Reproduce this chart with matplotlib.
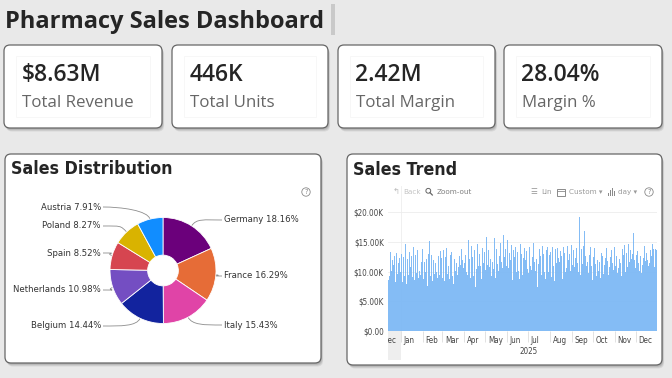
import matplotlib
matplotlib.use('Agg')
import matplotlib.pyplot as plt
from matplotlib.patches import FancyBboxPatch, Rectangle, Circle, PathPatch
from matplotlib.path import Path
from matplotlib import font_manager as fm
import matplotlib.transforms as mtransforms
import matplotlib.dates as mdates
from matplotlib.ticker import FuncFormatter
import numpy as np
import datetime as dt
import os

# ---------------- data ----------------
title = "Pharmacy Sales Dashboard"
kpi_values = ["$8.63M", "446K", "2.42M", "28.04%"]
kpi_labels = ["Total Revenue", "Total Units", "Total Margin", "Margin %"]

countries = ["Germany", "France", "Italy", "Belgium", "Netherlands", "Spain", "Poland", "Austria"]
shares = [18.16, 16.29, 15.43, 14.44, 10.98, 8.52, 8.27, 7.91]
pie_colors = ["#6B007B", "#E66C37", "#E044A7", "#12239E", "#744EC2", "#D64550", "#D9B300", "#118DFF"]

trend_start = dt.date(2024, 12, 14)
sales_dec24 = [8.6, 11.8, 9.2, 13.4, 10.1, 8.4, 12.0, 11.2, 9.0, 12.6, 8.3, 10.9, 13.1, 9.6, 11.4, 8.7, 12.3, 10.0]
sales_jan = [9.8, 13.0, 8.2, 11.5, 12.4, 9.3, 14.7, 10.6, 8.0, 12.1, 11.0, 9.5, 13.3, 7.8, 10.8, 12.7, 9.1, 11.9, 14.2, 8.6,
             10.4, 12.9, 9.7, 11.3, 13.6, 8.9, 10.2, 12.5, 9.4, 11.7, 10.9]
sales_feb = [13.8, 8.8, 11.6, 15.1, 9.9, 12.2, 10.5, 7.6, 13.0, 11.1, 15.1, 9.2, 12.8, 10.3, 8.5, 12.0, 14.1, 9.6, 11.4, 13.2,
             10.0, 8.9, 12.6, 11.8, 9.4, 13.5, 10.7, 12.3]
sales_mar = [9.0, 11.9, 13.7, 8.4, 12.4, 10.2, 14.0, 9.6, 16.3, 11.0, 8.7, 12.9, 10.5, 13.4, 9.3, 11.6, 7.9, 12.2, 14.1, 10.1,
             11.5, 9.4, 13.1, 10.8, 12.6, 8.8, 11.2, 13.9, 9.9, 12.0, 10.6]
sales_apr = [11.4, 8.6, 12.8, 10.0, 13.5, 9.5, 15.4, 11.2, 12.1, 8.9, 14.3, 10.7, 12.5, 9.2, 11.8, 13.7, 7.4, 12.3, 10.4, 14.6,
             11.0, 9.7, 13.0, 10.9, 12.7, 8.7, 14.0, 11.5, 9.8, 13.3]
sales_may = [10.3, 12.9, 15.9, 11.1, 9.6, 13.6, 10.8, 12.2, 14.8, 9.3, 11.7, 13.1, 10.5, 15.7, 12.0, 8.9, 13.8, 11.3, 14.4, 10.1,
             12.6, 9.8, 14.9, 11.6, 13.3, 10.7, 16.2, 12.4, 9.4, 13.9, 11.0]
sales_jun = [12.8, 15.4, 10.6, 13.2, 9.7, 12.0, 14.5, 11.4, 8.6, 13.7, 10.9, 12.5, 14.1, 9.9, 11.8, 13.4, 10.2, 12.9, 8.8, 14.6,
             11.2, 13.0, 9.5, 12.3, 10.7, 14.0, 11.9, 9.1, 13.5, 10.4]
sales_jul = [12.7, 9.8, 14.2, 11.0, 13.1, 10.3, 12.4, 8.9, 14.8, 11.6, 13.6, 10.1, 12.2, 7.5, 17.7, 11.3, 13.9, 10.8, 12.6, 9.4,
             14.3, 11.8, 13.0, 10.0, 12.5, 8.7, 13.7, 11.1, 14.1, 9.9, 12.8]
sales_aug = [10.6, 13.4, 9.1, 12.0, 14.2, 10.9, 12.9, 8.5, 13.8, 11.5, 10.2, 14.0, 12.3, 9.6, 11.7, 13.5, 10.4, 12.7, 8.8, 14.1,
             11.0, 13.2, 9.9, 12.4, 10.7, 14.4, 11.9, 9.3, 13.0, 10.1, 12.6]
sales_sep = [14.5, 11.2, 9.7, 13.6, 10.8, 12.3, 8.9, 14.0, 11.5, 13.1, 10.0, 19.2, 12.1, 9.4, 13.8, 11.3, 10.5, 14.3, 16.8, 8.4,
             12.7, 10.9, 13.4, 11.7, 9.8, 12.9, 10.3, 14.1, 11.0, 13.2]
sales_oct = [8.6, 12.4, 10.7, 14.0, 11.3, 9.2, 13.5, 12.0, 10.1, 14.1, 11.6, 8.9, 13.2, 10.5, 12.7, 9.6, 13.9, 11.1, 12.3, 10.0,
             14.0, 11.8, 9.4, 13.3, 10.8, 12.5, 9.9, 13.7, 11.4, 12.9, 10.3]
sales_nov = [14.2, 11.0, 15.4, 12.6, 9.7, 13.4, 10.6, 12.1, 15.3, 11.5, 9.3, 13.8, 10.2, 12.8, 14.5, 11.2, 9.9, 13.1, 10.8, 12.4,
             14.7, 11.7, 10.4, 13.6, 12.2, 9.5, 13.0, 16.6, 11.9, 14.3]
sales_dec25 = [10.7, 12.9, 9.1, 13.5, 11.4, 14.7, 10.2, 12.6, 9.8, 13.9, 11.1, 12.3, 10.5, 14.4, 11.8, 9.4, 13.2, 12.0, 10.9, 14.0,
               11.5, 13.6, 10.3, 12.7, 14.6, 11.2, 13.8, 10.8, 13.9, 12.4, 13.7]
month_labels = ["Dec", "Jan", "Feb", "Mar", "Apr", "May", "Jun", "Jul", "Aug", "Sep", "Oct", "Nov", "Dec"]
year_label = "2025"
y_ticks = [0, 5000, 10000, 15000, 20000]

daily_k = (sales_dec24 + sales_jan + sales_feb + sales_mar + sales_apr + sales_may + sales_jun +
           sales_jul + sales_aug + sales_sep + sales_oct + sales_nov + sales_dec25)
daily_sales = np.array(daily_k) * 1000.0
dates = [trend_start + dt.timedelta(days=i) for i in range(len(daily_sales))]

# ---------------- fonts ----------------
_paths = {os.path.basename(f.fname): f.fname for f in fm.fontManager.ttflist}

def pick(cands, fallback):
    for c in cands:
        if c in _paths:
            return fm.FontProperties(fname=_paths[c])
    return fallback

cond_bold = pick(["DejaVuSansCondensed-Bold.ttf", "LiberationSansNarrow-Bold.ttf"],
                 fm.FontProperties(family="Roboto", weight="bold"))
cond_reg = pick(["DejaVuSansCondensed.ttf", "LiberationSansNarrow-Regular.ttf"],
                fm.FontProperties(family="Roboto"))

def fp(base, size):
    p = base.copy()
    p.set_size(size)
    return p

# ---------------- figure ----------------
W, H = 672, 378
fig = plt.figure(figsize=(6.72, 3.78), dpi=100)
fig.patch.set_facecolor('#e9e9e9')
bg = fig.add_axes([0, 0, 1, 1])
bg.set_xlim(0, W)
bg.set_ylim(H, 0)
bg.axis('off')

def rect_px(x0, y0, x1, y1):
    return [x0 / W, 1 - y1 / H, (x1 - x0) / W, (y1 - y0) / H]

def card(x0, y0, x1, y1, r=6):
    for off, a in [(3.5, 0.18), (2.5, 0.25), (1.5, 0.3)]:
        bg.add_patch(FancyBboxPatch((x0 + off * 0.6, y0 + off), x1 - x0, y1 - y0,
                                    boxstyle=f"round,pad=0,rounding_size={r}",
                                    fc='#8a8a8a', ec='none', alpha=a, zorder=1))
    bg.add_patch(FancyBboxPatch((x0, y0), x1 - x0, y1 - y0,
                                boxstyle=f"round,pad=0,rounding_size={r}",
                                fc='white', ec='#666666', lw=0.9, zorder=2))

def help_icon(x, y):
    bg.add_patch(Circle((x, y), 4.2, fc='none', ec='#8a8a8a', lw=0.6, zorder=5))
    bg.text(x, y + 0.3, "?", fontsize=4.8, color='#8a8a8a', ha='center', va='center', zorder=6)

# title
bg.text(5, 22, title, fontsize=17, fontweight='bold', family='Open Sans', color='#252525',
        va='center', ha='left', zorder=3)
bg.add_patch(Rectangle((331, 4), 4, 31, fc='#c9c9c9', ec='none', zorder=3))

# KPI cards
kpi_boxes = [(4, 45, 162, 128), (172, 45, 328, 128), (338, 45, 495, 128), (504, 45, 662, 128)]
for (x0, y0, x1, y1), v, lab in zip(kpi_boxes, kpi_values, kpi_labels):
    card(x0, y0, x1, y1)
    bg.add_patch(Rectangle((x0 + 12, y0 + 11), x1 - x0 - 24, y1 - y0 - 22, fc='none',
                           ec='#f6f6f6', lw=0.6, zorder=3))
    bg.text(x0 + 17.5, 75, v, fontsize=16.5, family='Open Sans', fontweight='semibold',
            color='#252525', va='center', ha='left', zorder=4)
    bg.text(x0 + 17.5, 103, lab, fontsize=12.2, family='Open Sans', color='#666666',
            va='center', ha='left', zorder=4)

# panels
card(5, 154, 321, 363)
card(347, 154, 662, 365)
bg.text(11, 169, "Sales Distribution", fontproperties=fp(cond_bold, 12.8), color='#252525',
        va='center', ha='left', zorder=4)
bg.text(353, 170, "Sales Trend", fontproperties=fp(cond_bold, 12.8), color='#252525',
        va='center', ha='left', zorder=4)
help_icon(306, 192)

# ---------------- pie ----------------
cx, cy, R = 163, 270.5, 53.0
half = 66
pax = fig.add_axes(rect_px(cx - half, cy - half, cx + half, cy + half))
pax.pie(shares, colors=pie_colors, startangle=90, counterclock=False, radius=1.0,
        wedgeprops=dict(width=0.71, edgecolor='white', linewidth=0.6))
pax.set_xlim(-half / R, half / R)
pax.set_ylim(-half / R, half / R)
pax.set_aspect('equal')
pax.axis('off')

label_pos = [(224, 220), (224, 276), (224, 325), (101, 326), (101, 290), (101, 253), (101, 226), (101, 207)]
cum = np.cumsum([0] + shares)
total = cum[-1]
for i, (name, s) in enumerate(zip(countries, shares)):
    mid = (cum[i] + cum[i + 1]) / 2 / total * 2 * np.pi
    dx, dy = np.sin(mid), -np.cos(mid)
    p0 = (cx + R * dx, cy + R * dy)
    p1 = (cx + (R + 9) * dx, cy + (R + 9) * dy)
    lx, ly = label_pos[i]
    side = 1 if lx > cx else -1
    p3 = (lx - 2 * side, ly)
    p2 = (p3[0] - 18 * side, ly)
    path = Path([p0, p1, p2, p3], [Path.MOVETO, Path.CURVE4, Path.CURVE4, Path.CURVE4])
    bg.add_patch(PathPatch(path, fc='none', ec='#8c8c8c', lw=0.6, zorder=3))
    bg.text(lx, ly, f"{name} {s:.2f}%", fontproperties=fp(cond_reg, 6.8), color='#333333',
            ha='left' if side > 0 else 'right', va='center', zorder=4)

# ---------------- trend toolbar ----------------
ty = 192
tb = dict(fontsize=5.2, va='center', ha='left', zorder=5)
bg.text(393, ty, "\u21b0", color='#bdbdbd', fontsize=6, va='center', ha='left', zorder=5)
bg.text(403, ty, "Back", color='#c4c4c4', **tb)
bg.add_patch(Circle((428.3, 190.8), 2.4, fc='none', ec='#666666', lw=0.7, zorder=5))
bg.plot([430.0, 432.3], [192.6, 195.0], color='#666666', lw=0.9, zorder=5)
bg.text(437, ty, "Zoom-out", color='#808080', **tb)
bg.text(530, ty, "\u2630", color='#9a9a9a', fontsize=5.5, va='center', ha='left', zorder=5)
bg.text(541, ty, "Lin", color='#9a9a9a', **tb)
bg.add_patch(Rectangle((557, 188.5), 8, 7, fc='none', ec='#8a8a8a', lw=0.7, zorder=5))
bg.plot([557, 565], [190.5, 190.5], color='#8a8a8a', lw=0.6, zorder=5)
bg.text(569, ty, "Custom \u25be", color='#9a9a9a', **tb)
for bx, bh in [(607.5, 3.5), (609.6, 6), (611.7, 8), (613.8, 5)]:
    bg.add_patch(Rectangle((bx, 196 - bh), 1.4, bh, fc='#8a8a8a', ec='none', zorder=5))
bg.text(618, ty, "day \u25be", color='#9a9a9a', **tb)
help_icon(649, 192)

# shaded slider area & guide line
bg.add_patch(Rectangle((388, 331), 12.5, 29, fc='#eeeeee', ec='none', zorder=3))
bg.plot([400.5, 400.5], [186, 331], color='#eeeeee', lw=0.6, zorder=3)

# ---------------- trend chart ----------------
tax = fig.add_axes(rect_px(388, 205, 657, 331))
tax.patch.set_alpha(0)
xnum = mdates.date2num(dates)
tax.bar(xnum, daily_sales, width=1.0, color='#7ab7f5', linewidth=0, alpha=0.92, zorder=3)
tax.set_xlim(xnum[0] - 0.5, xnum[-1] + 0.5)
tax.set_ylim(0, 21250)
tax.set_yticks(y_ticks)
tax.yaxis.set_major_formatter(FuncFormatter(lambda v, p: "$0.00" if v == 0 else f"${v / 1000:.2f}K"))
tax.grid(axis='y', color='#ececec', lw=0.6, zorder=0)
for s in tax.spines.values():
    s.set_visible(False)
tax.tick_params(axis='y', length=0, pad=3, labelsize=5.8, labelcolor='#444444')
for lbl in tax.get_yticklabels():
    lbl.set_fontproperties(fp(cond_reg, 5.8))

month_starts = [dt.date(2024, 12, 1)] + [dt.date(2025, m, 1) for m in range(1, 13)]
ms_num = mdates.date2num(month_starts)
tax.set_xticks(ms_num[1:])
tax.set_xticklabels([])
tax.tick_params(axis='x', length=8, width=0.6, color='#dddddd', direction='out')
clip_rect = Rectangle((387.5, 320), 280, 50, transform=bg.transData, visible=False)
bg.add_patch(clip_rect)
trans = mtransforms.offset_copy(tax.get_xaxis_transform(), fig=fig, x=2.6, y=0, units='dots')
for m, lab in zip(ms_num, month_labels):
    t = tax.text(m, -0.075, lab, transform=trans, fontproperties=fp(cond_reg, 5.8), color='#444444',
                 ha='left', va='center', clip_on=True)
    t.set_clip_path(clip_rect)
year_x = (mdates.date2num(dt.date(2025, 1, 1)) + mdates.date2num(dt.date(2025, 12, 31))) / 2
tax.text(year_x, -0.16, year_label, transform=tax.get_xaxis_transform(), fontproperties=fp(cond_reg, 5.8),
         color='#444444', ha='center', va='center')

fig.savefig('out.png', dpi=100, facecolor=fig.get_facecolor())
